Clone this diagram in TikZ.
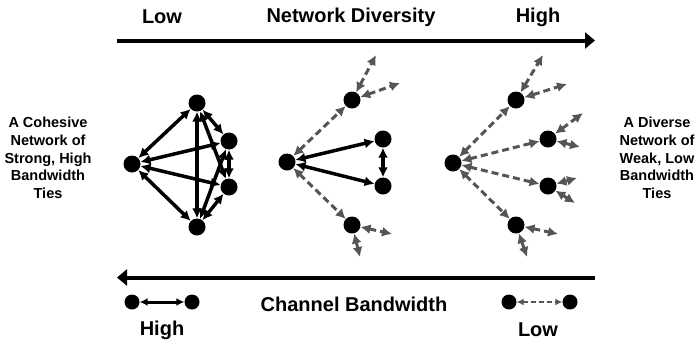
\documentclass[tikz,border=0pt]{standalone}
\usepackage{fontspec}
\setmainfont{Liberation Sans}
\usetikzlibrary{arrows.meta}
\definecolor{tiegray}{RGB}{85,85,85}

\begin{document}
\begin{tikzpicture}[x=1pt,y=-1pt,dotnode/.style={circle,fill=black,inner sep=0pt,minimum size=17pt}]
		\tikzstyle{strong}=[draw,line width=3.5pt,{Latex[length=10pt,width=10pt]}-{Latex[length=10pt,width=10pt]}]
		\tikzstyle{weak}=[draw=tiegray,line width=3pt,dash pattern=on 7pt off 4pt,{Latex[length=10pt,width=10pt]}-{Latex[length=10pt,width=10pt]}]
		\tikzstyle{axis}=[draw,line width=4pt,-{Triangle[length=10pt,width=16pt]}]
		\tikzstyle{heading}=[font=\fontsize{20}{24}\selectfont\bfseries,inner sep=0pt]
		\tikzstyle{side}=[font=\fontsize{14.5}{17.7}\selectfont\bfseries,align=center,inner sep=0pt]
		\useasboundingbox (0,0) rectangle (700,343);
		
		% axes and their labels
		\coordinate (divL) at (117,40.5);
		\coordinate (divR) at (595,40.5);
		\coordinate (bwL) at (117,277.5);
		\coordinate (bwR) at (595,277.5);
		\path[axis] (divL) -- (divR);
		\path[axis] (bwR) -- (bwL);
		\node[heading] (divlow) at (162,17) {Low};
		\node[heading] (divtitle) at (351,17) {Network Diversity};
		\node[heading] (divhigh) at (538,17) {High};
		\node[heading] (bwtitle) at (354,304) {Channel Bandwidth};
		\node[heading] (bwhigh) at (162,330) {High};
		\node[heading] (bwlow) at (538,330) {Low};
		\node[side] (cohesive) at (48,158) {A Cohesive\\Network of\\Strong, High\\Bandwidth\\Ties};
		\node[side] (diverse) at (657,158) {A Diverse\\Network of\\Weak, Low\\Bandwidth\\Ties};
		
		% low diversity network
		\node[dotnode] (lc) at (132,164){};
		\node[dotnode] (lt) at (197,103){};
		\node[dotnode] (lu) at (229,141){};
		\node[dotnode] (ld) at (229,187){};
		\node[dotnode] (lb) at (197,227){};
		\foreach \a/\b in {lc/lt,lc/lu,lc/ld,lc/lb,lt/lu,lt/ld,lt/lb,lu/ld,lu/lb,ld/lb}
			\path[strong] (\a) -- (\b);
		
		% middle network
		\node[dotnode] (mc) at (287,162){};
		\node[dotnode] (mt) at (352,100){};
		\node[dotnode] (mu) at (383,139){};
		\node[dotnode] (md) at (383,186){};
		\node[dotnode] (mb) at (352,225){};
		\coordinate (mt1) at (376,55);
		\coordinate (mt2) at (400,83);
		\coordinate (mb1) at (392,234);
		\coordinate (mb2) at (360,257);
		\foreach \a/\b in {mc/mu,mc/md,mu/md}
			\path[strong] (\a) -- (\b);
		\foreach \a/\b in {mc/mt,mc/mb,mt/mt1,mt/mt2,mb/mb1,mb/mb2}
			\path[weak] (\a) -- (\b);
		
		% high diversity network
		\node[dotnode] (rc) at (453,163){};
		\node[dotnode] (rt) at (516,100){};
		\node[dotnode] (ru) at (548,139){};
		\node[dotnode] (rd) at (548,186){};
		\node[dotnode] (rb) at (516,225){};
		\coordinate (rt1) at (543,55);
		\coordinate (rt2) at (567,84);
		\coordinate (ru1) at (583,113);
		\coordinate (ru2) at (580,147);
		\coordinate (rd1) at (577,178);
		\coordinate (rd2) at (575,203);
		\coordinate (rb1) at (558,234);
		\coordinate (rb2) at (527,257);
		\foreach \a/\b in {rc/rt,rc/ru,rc/rd,rc/rb,rt/rt1,rt/rt2,ru/ru1,ru/ru2,rd/rd1,rd/rd2,rb/rb1,rb/rb2}
			\path[weak] (\a) -- (\b);
		
		% bandwidth legend
		\node[dotnode,minimum size=15pt] (hA) at (132,302){};
		\node[dotnode,minimum size=15pt] (hB) at (192,302){};
		\node[dotnode,minimum size=15pt] (wA) at (509,302){};
		\node[dotnode,minimum size=15pt] (wB) at (570,302){};
		\path[strong,line width=3pt,{Latex[length=8pt,width=8pt]}-{Latex[length=8pt,width=8pt]}] (hA) -- (hB);
		\path[weak,line width=2pt,dash pattern=on 5pt off 3pt,{Latex[length=7pt,width=7pt]}-{Latex[length=7pt,width=7pt]}] (wA) -- (wB);
		
\end{tikzpicture}
\end{document}
